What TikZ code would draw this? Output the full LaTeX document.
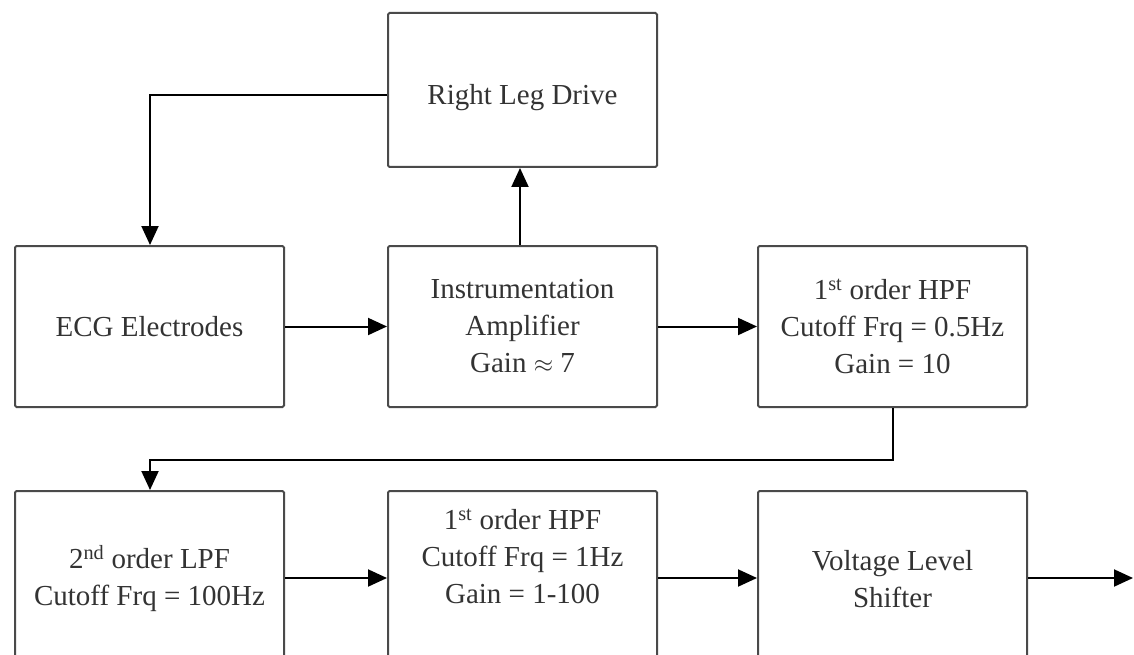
\documentclass[tikz,border=0pt]{standalone}
\usepackage{fontspec}
\setmainfont{Liberation Serif}
\usetikzlibrary{arrows.meta}
\definecolor{boxgray}{HTML}{4A4A4A}
\definecolor{txtgray}{HTML}{333333}
\begin{document}
\begin{tikzpicture}[x=1pt,y=-1pt,
  blk/.style={draw=boxgray,line width=2pt,rounded corners=1.5pt,minimum width=269pt,
    align=center,text=txtgray,font=\fontsize{29}{37}\selectfont,inner sep=0pt},
  toprow/.style={blk,minimum height=161pt},
  botrow/.style={blk,minimum height=176pt},
  conn/.style={draw=black,line width=2pt,-{Triangle[length=19pt,width=17pt]}}]
\useasboundingbox (0,0) rectangle (1134,655);
\clip (0,0) rectangle (1134,655);
\node[toprow,anchor=north west,minimum height=154pt] (rld) at (387,12) {\raisebox{-15pt}[0pt][0pt]{Right Leg Drive}};
\node[toprow,anchor=north west] (ecg) at (14,245) {ECG Electrodes};
\node[toprow,anchor=north west] (amp) at (387,245) {Instrumentation\\Amplifier\\Gain $\approx$ 7};
\node[toprow,anchor=north west] (hpf1) at (757,245) {1\textsuperscript{st} order HPF\\Cutoff Frq = 0.5Hz\\Gain = 10};
\node[botrow,anchor=north west] (lpf) at (14,490) {2\textsuperscript{nd} order LPF\\Cutoff Frq = 100Hz};
\node[botrow,anchor=north west] (hpf2) at (387,490) {1\textsuperscript{st} order HPF\\Cutoff Frq = 1Hz\\Gain = 1-100\\[8pt]};
\node[botrow,anchor=north west] (vls) at (757,490) {Voltage Level\\Shifter};
\coordinate (out) at (1133,578);
\coordinate (rldl) at (387,95);
\draw[conn] (rldl) -| (ecg.north -| 150,0);
\draw[conn] (amp.north -| 520,0) -- (rld.south -| 520,0);
\draw[conn] (ecg.east) -- (amp.west);
\draw[conn] (amp.east) -- (hpf1.west);
\draw[conn] (hpf1.south) -- ++(0,52) -| (lpf.north -| 150,0);
\draw[conn] (lpf.east |- 0,578) -- (hpf2.west |- 0,578);
\draw[conn] (hpf2.east |- 0,578) -- (vls.west |- 0,578);
\draw[conn] (vls.east |- 0,578) -- (out);
\end{tikzpicture}
\end{document}
